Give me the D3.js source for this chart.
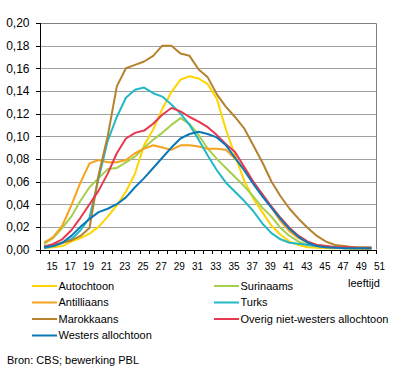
<!DOCTYPE html>
<html lang="nl">
<head>
<meta charset="utf-8">
<title>Vruchtbaarheid naar leeftijd</title>
<script src="https://cdn.jsdelivr.net/npm/d3@7"></script>
<style>
  body { margin: 0; background: #fff; }
  svg text { font-family: Arial, "Liberation Sans", sans-serif; fill: #000; }
  .grid line { stroke: #a0a0a0; stroke-width: 1; shape-rendering: crispEdges; }
  .grid path { stroke-width: 0; }
  .axis path, .axis line { stroke: #000; stroke-width: 1; shape-rendering: crispEdges; }
  .series { fill: none; stroke-width: 2; stroke-linejoin: round; }
</style>
</head>
<body>
<script>
// leeftijd (categories)
var ages = [15, 16, 17, 18, 19, 20, 21, 22, 23, 24, 25, 26, 27, 28, 29, 30, 31, 32, 33,
            34, 35, 36, 37, 38, 39, 40, 41, 42, 43, 44, 45, 46, 47, 48, 49, 50, 51];

var xTickLabels = ["15", "17", "19", "21", "23", "25", "27", "29", "31", "33",
                   "35", "37", "39", "41", "43", "45", "47", "49", "51"];
var yTicks = [0, 0.02, 0.04, 0.06, 0.08, 0.10, 0.12, 0.14, 0.16, 0.18, 0.20];
var yTickLabels = ["0,00", "0,02", "0,04", "0,06", "0,08", "0,10", "0,12", "0,14", "0,16", "0,18", "0,20"];

var autochtoon = [0.001, 0.002, 0.003, 0.007, 0.010, 0.014, 0.020, 0.029, 0.039, 0.051, 0.067, 0.092, 0.106,
                  0.124, 0.139, 0.150, 0.153, 0.151, 0.146, 0.133, 0.106, 0.083, 0.061, 0.045, 0.033, 0.021,
                  0.013, 0.007, 0.004, 0.002, 0.0015, 0.001, 0.001, 0.001, 0.0005, 0.0005, 0.0005];
var surinaams = [0.005, 0.010, 0.019, 0.029, 0.043, 0.055, 0.063, 0.071, 0.072, 0.077, 0.082, 0.090, 0.097,
                 0.103, 0.110, 0.116, 0.111, 0.101, 0.089, 0.080, 0.072, 0.064, 0.056, 0.047, 0.037, 0.029,
                 0.019, 0.012, 0.007, 0.004, 0.003, 0.002, 0.002, 0.001, 0.001, 0.001, 0.001];
var antilliaans = [0.006, 0.011, 0.021, 0.039, 0.059, 0.076, 0.079, 0.077, 0.077, 0.079, 0.085, 0.089, 0.092,
                   0.090, 0.088, 0.092, 0.092, 0.091, 0.089, 0.089, 0.088, 0.080, 0.071, 0.059, 0.048, 0.037,
                   0.025, 0.016, 0.010, 0.006, 0.004, 0.003, 0.002, 0.002, 0.001, 0.001, 0.001];
var turks = [0.001, 0.003, 0.006, 0.009, 0.017, 0.028, 0.063, 0.096, 0.117, 0.134, 0.141, 0.143, 0.138,
             0.135, 0.128, 0.120, 0.110, 0.097, 0.083, 0.070, 0.059, 0.051, 0.043, 0.034, 0.023, 0.0145,
             0.009, 0.006, 0.005, 0.004, 0.003, 0.002, 0.002, 0.001, 0.001, 0.001, 0.001];
var marokkaans = [0.003, 0.004, 0.006, 0.008, 0.012, 0.019, 0.066, 0.100, 0.144, 0.160, 0.163, 0.166, 0.171,
                  0.180, 0.180, 0.173, 0.171, 0.159, 0.152, 0.137, 0.126, 0.117, 0.107, 0.092, 0.077, 0.060,
                  0.047, 0.036, 0.027, 0.019, 0.012, 0.007, 0.004, 0.003, 0.002, 0.002, 0.002];
var overig = [0.002, 0.005, 0.009, 0.017, 0.028, 0.040, 0.052, 0.067, 0.085, 0.098, 0.103, 0.105, 0.111,
              0.119, 0.125, 0.122, 0.117, 0.113, 0.108, 0.101, 0.093, 0.086, 0.073, 0.060, 0.049, 0.038,
              0.028, 0.019, 0.012, 0.007, 0.004, 0.003, 0.002, 0.002, 0.002, 0.001, 0.001];
var westers = [0.002, 0.003, 0.006, 0.012, 0.020, 0.027, 0.033, 0.036, 0.040, 0.046, 0.055, 0.063, 0.072,
               0.081, 0.090, 0.098, 0.102, 0.104, 0.102, 0.099, 0.092, 0.081, 0.070, 0.058, 0.047, 0.037,
               0.027, 0.018, 0.011, 0.006, 0.003, 0.002, 0.0015, 0.001, 0.001, 0.001, 0.001];

var seriesNames = ["Autochtoon", "Surinaams", "Antilliaans", "Turks", "Marokkaans",
                   "Overig niet-westers allochtoon", "Westers allochtoon"];
var seriesValues = [autochtoon, surinaams, antilliaans, turks, marokkaans, overig, westers];
var seriesColors = ["#ffd400", "#a6cf4c", "#f7a21e", "#22b9c6", "#b5822e", "#e8384f", "#0b78b8"];

var w = 396, h = 374;
// plot area (not "top"/"left": those clash with window globals)
var pL = 39.5, pR = 376, pT = 23, pB = 249.5;

var svg = d3.select("body").append("svg")
  .attr("width", w)
  .attr("height", h);

// scales
var x = d3.scaleBand().domain(ages).range([pL, pR]);
var xEdge = d3.scaleLinear().domain([0, ages.length]).range([pL, pR]);
var y = d3.scaleLinear().domain([0, 0.20]).range([pB, pT]);

// horizontal gridlines
svg.append("g")
  .attr("class", "grid")
  .attr("transform", "translate(" + pL + ",0)")
  .call(d3.axisLeft(y).tickValues(yTicks).tickSize(-(pR - pL)).tickFormat(""));

// top and right border
svg.append("path")
  .attr("d", "M" + pL + "," + (Math.round(pT) + 0.5) + "H" + (Math.round(pR) + 0.5) + "V" + pB)
  .attr("fill", "none")
  .attr("stroke", "#808080")
  .attr("stroke-width", 1);

// y axis
var yAxis = svg.append("g")
  .attr("class", "axis")
  .attr("transform", "translate(" + pL + ",0)")
  .call(d3.axisLeft(y).tickValues(yTicks).tickSize(4).tickPadding(6)
    .tickFormat(function(d, i) { return yTickLabels[i]; }));
yAxis.selectAll("text").style("font-size", "12px");

// x axis: tick marks between categories
svg.append("g")
  .attr("class", "axis")
  .attr("transform", "translate(0," + pB + ")")
  .call(d3.axisBottom(xEdge).tickValues(d3.range(ages.length + 1)).tickSize(4).tickFormat(""));

// x labels (every other age)
var xLab = svg.append("g")
  .attr("class", "axis")
  .attr("transform", "translate(0," + pB + ")")
  .call(d3.axisBottom(x).tickValues(xTickLabels.map(Number)).tickSize(0).tickPadding(13));
xLab.select(".domain").remove();
xLab.selectAll("text").attr("x", 8).style("font-size", "10px");

// lines
var line = d3.line()
  .x(function(d, i) { return x(ages[i]) + x.bandwidth() / 2; })
  .y(function(d) { return y(d); });

svg.selectAll(".series")
  .data(seriesValues)
  .enter()
  .append("path")
  .attr("class", "series")
  .attr("stroke", function(d, i) { return seriesColors[i]; })
  .attr("d", line);

// legend (two columns, filled row by row)
var legend = svg.append("g").style("font-size", "11px");
seriesNames.forEach(function(name, i) {
  var col = i % 2, row = Math.floor(i / 2);
  var lx = col === 0 ? 32 : 214;
  var ly = 286 + row * 16.5;
  legend.append("line")
    .attr("x1", lx).attr("x2", lx + 25)
    .attr("y1", ly).attr("y2", ly)
    .attr("stroke", seriesColors[i])
    .attr("stroke-width", 2);
  legend.append("text")
    .attr("x", lx + 26.5)
    .attr("y", ly)
    .attr("dy", "0.35em")
    .text(name);
});

svg.append("text")
  .attr("x", 348)
  .attr("y", 283)
  .attr("dy", "0.35em")
  .style("font-size", "11px")
  .text("leeftijd");

svg.append("text")
  .attr("x", 7)
  .attr("y", 360)
  .attr("dy", "0.35em")
  .style("font-size", "11px")
  .text("Bron: CBS; bewerking PBL");
</script>
</body>
</html>
